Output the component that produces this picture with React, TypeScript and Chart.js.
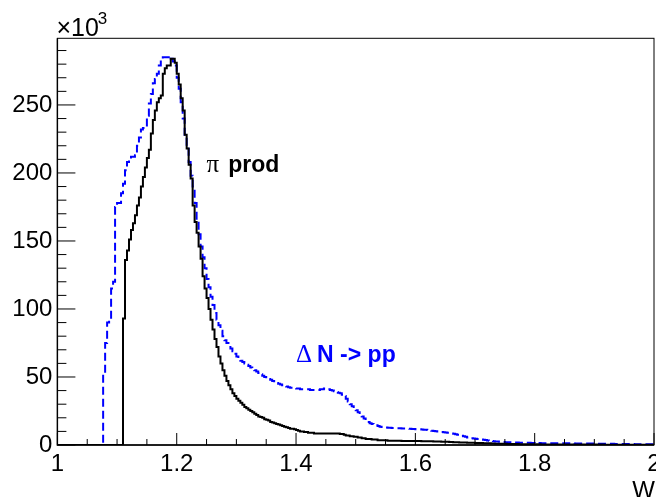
import React, { useEffect, useRef } from "react";
import { Chart, registerables } from "chart.js";

Chart.register(...registerables);

// ---- axis definition ----
const X_MIN = 1;
const X_MAX = 2;
const Y_MIN = 0;
const Y_MAX = 299; // in units of 10^3
const X_TICK_LABELS = [1, 1.2, 1.4, 1.6, 1.8, 2];
const X_MINOR_STEP = 0.05;
const Y_TICK_LABELS = [0, 50, 100, 150, 200, 250];
const Y_MINOR_STEP = 10;
const X_TITLE = "W";
const Y_EXPONENT = "3";

// ---- histogram contents (x10^3 entries), 300 bins from 1 to 2 ----
const PI_PROD = [
  0, 0, 0, 0, 0, 0, 0, 0, 0, 0,
  0, 0, 0, 0, 0, 0, 0, 0, 0, 0,
  0, 0, 0, 0, 0, 0, 0, 0, 0, 0,
  0, 0, 0, 93, 136, 143, 151, 158, 163, 169,
  176, 182, 190, 197, 204, 211, 217, 229, 239, 246,
  252, 255, 257, 273, 277, 279, 279, 284, 284, 281,
  273, 265, 255, 246, 228, 218, 206, 196, 176, 164,
  156, 146, 137, 124, 115, 108, 100, 92, 85, 78,
  72, 65, 60, 55, 51, 47, 44, 41, 38, 36,
  34, 32.5, 31, 29.5, 28, 27, 26, 25, 24, 23,
  22, 21, 20.5, 20, 19, 18.5, 18, 17, 16.5, 16,
  15.5, 15, 14.5, 14, 13.5, 13, 12.5, 12, 12, 11.5,
  11, 10.5, 10, 10, 9.5, 9.5, 9, 9, 9, 8.5,
  8.5, 8.5, 8.5, 8.5, 8.5, 8.5, 8.5, 8.5, 8.5, 8.5,
  8.5, 8.5, 8, 8, 7.5, 7, 7, 6.5, 6.5, 6,
  6, 5.5, 5.5, 5, 5, 4.5, 4.5, 4.5, 4, 4,
  4, 3.5, 3.5, 3.5, 3.5, 3.5, 3.2, 3.2, 3.2, 3.2,
  3.2, 3.2, 3.2, 3, 3, 3, 3, 3, 3, 3,
  3, 3, 3, 2.8, 2.8, 2.8, 2.7, 2.7, 2.7, 2.6,
  2.6, 2.5, 2.5, 2.4, 2.4, 2.3, 2.3, 2.2, 2.2, 2.1,
  2.0, 2.0, 1.9, 1.9, 1.8, 1.8, 1.7, 1.7, 1.6, 1.6,
  1.5, 1.5, 1.4, 1.4, 1.3, 1.3, 1.2, 1.2, 1.1, 1.1,
  1.0, 1.0, 1.0, 0.9, 0.9, 0.9, 0.8, 0.8, 0.8, 0.7,
  0.7, 0.7, 0.6, 0.6, 0.6, 0.6, 0.5, 0.5, 0.5, 0.5,
  0.5, 0.5, 0.5, 0.4, 0.4, 0.4, 0.4, 0.4, 0.4, 0.4,
  0.4, 0.4, 0.4, 0.4, 0.3, 0.3, 0.3, 0.3, 0.3, 0.3,
  0.3, 0.3, 0.3, 0.3, 0.3, 0.3, 0.3, 0.3, 0.3, 0.3,
  0.3, 0.3, 0.3, 0.3, 0.3, 0.2, 0.2, 0.2, 0.2, 0.2,
  0.2, 0.2, 0.2, 0.2, 0.2, 0.2, 0.2, 0.2, 0.2, 0.2,
  0.2, 0.2, 0.2, 0.2, 0.2, 0.2, 0.2, 0.2, 0.2, 0.2,
];

const DELTA_N_PP = [
  0, 0, 0, 0, 0, 0, 0, 0, 0, 0,
  0, 0, 0, 0, 0, 0, 0, 0, 0, 0,
  0, 0, 0, 53, 75, 90, 92, 115, 120, 175,
  178, 178, 185, 192, 202, 208, 210, 212, 212, 213,
  220, 226, 232, 233, 234, 242, 251, 258, 266, 269,
  273, 279, 283, 285, 285, 285, 283, 284, 282, 279,
  270, 262, 252, 240, 228, 220, 208, 198, 190, 178,
  165, 155, 146, 138, 130, 122, 116, 109, 103, 97,
  92, 88, 84, 80, 77, 75, 73, 71, 69, 67,
  65, 63.5, 62, 61, 60, 59, 58, 57, 56, 55,
  54, 53, 52, 51, 50, 49, 48.5, 48, 47, 46,
  45.5, 45, 44.5, 44, 43.5, 43, 42.5, 42, 42, 42,
  41.5, 41.5, 41, 41, 41, 41, 41, 40.5, 40.5, 40.5,
  40.5, 40.5, 41, 41, 41.5, 41.5, 41, 40.5, 40, 39.5,
  39, 38.5, 38, 37, 36, 34, 32, 30, 28.5, 27,
  25.5, 24, 22.5, 21, 19.5, 18, 17, 16, 15.5, 15,
  14.5, 14, 13.5, 13.2, 13, 12.8, 12.7, 12.6, 12.5, 12.5,
  12.5, 12.4, 12.3, 12.2, 12.1, 12, 12, 11.9, 11.8, 11.7,
  11.6, 11.5, 11.5, 11.4, 11.3, 11.2, 11, 10.8, 10.5, 10.3,
  10.2, 10, 9.8, 9.6, 9.4, 9.2, 9, 8.8, 8.5, 8.2,
  7.9, 7.6, 7.2, 6.8, 6.4, 6, 5.6, 5.3, 5, 4.8,
  4.6, 4.4, 4.2, 4, 3.8, 3.6, 3.4, 3.2, 3, 2.8,
  2.6, 2.5, 2.4, 2.3, 2.2, 2.1, 2.1, 2, 2, 1.9,
  1.8, 1.8, 1.7, 1.7, 1.7, 1.6, 1.6, 1.6, 1.5, 1.5,
  1.4, 1.4, 1.4, 1.3, 1.3, 1.3, 1.3, 1.2, 1.2, 1.2,
  1.2, 1.2, 1.2, 1.2, 1.2, 1.2, 1.2, 1.2, 1.2, 1.2,
  1.1, 1.1, 1.1, 1.1, 1.1, 1.1, 1.1, 1.1, 1.1, 1.1,
  1, 1, 1, 1, 1, 1, 1, 1, 1, 1,
  0.8, 0.8, 0.8, 0.8, 0.8, 0.8, 0.8, 0.8, 0.8, 0.8,
  0.6, 0.6, 0.6, 0.6, 0.6, 0.6, 0.6, 0.6, 0.6, 0.6,
];

// ---- annotation labels (anchored in data coordinates) ----
const PI_LABEL = { symbol: "π", text: "prod", x: 1.25, y: 201, color: "#000000", gap: 9 };
const DELTA_LABEL = { symbol: "Δ", text: "N -> pp", x: 1.4, y: 61.3, color: "#0000ff", gap: 5 };

const SANS = '"Liberation Sans", Arial, Helvetica, sans-serif';
const SERIF = '"Liberation Serif", "Times New Roman", serif';

function histSteps(values: number[]) {
  const w = (X_MAX - X_MIN) / values.length;
  const pts = values.map((v, i) => ({ x: X_MIN + i * w, y: v }));
  pts.push({ x: X_MAX, y: values[values.length - 1] });
  return pts;
}

const rootDecor = {
  id: "rootDecor",
  afterDatasetsDraw(chart: any) {
    const { ctx, chartArea: a, scales } = chart;
    const xs = scales.x;
    const ys = scales.y;
    ctx.save();
    // frame
    ctx.strokeStyle = "#000";
    ctx.lineWidth = 1;
    ctx.strokeRect(a.left, a.top, a.right - a.left, a.bottom - a.top);
    // left & bottom axis lines a bit stronger
    ctx.lineWidth = 1.4;
    ctx.beginPath();
    ctx.moveTo(a.left, a.top);
    ctx.lineTo(a.left, a.bottom);
    ctx.lineTo(a.right, a.bottom);
    ctx.stroke();
    // y ticks (inward)
    ctx.lineWidth = 1;
    for (let k = 0; k * Y_MINOR_STEP <= Y_MAX; k++) {
      const v = Y_MIN + k * Y_MINOR_STEP;
      const p = ys.getPixelForValue(v);
      const len = Y_TICK_LABELS.includes(v) ? 18 : 9;
      ctx.beginPath();
      ctx.moveTo(a.left, p);
      ctx.lineTo(a.left + len, p);
      ctx.stroke();
    }
    // x ticks (inward)
    const nx = Math.round((X_MAX - X_MIN) / X_MINOR_STEP);
    for (let k = 0; k <= nx; k++) {
      const v = X_MIN + k * X_MINOR_STEP;
      const isMajor = X_TICK_LABELS.some((t) => Math.abs(t - v) < 1e-9);
      const p = xs.getPixelForValue(v);
      const len = isMajor ? 12 : 6;
      ctx.beginPath();
      ctx.moveTo(p, a.bottom);
      ctx.lineTo(p, a.bottom - len);
      ctx.stroke();
    }
    // exponent label
    ctx.fillStyle = "#000";
    ctx.textAlign = "left";
    ctx.textBaseline = "alphabetic";
    ctx.font = `25px ${SANS}`;
    const ex = a.left - 1;
    const ey = a.top - 2.5;
    ctx.fillText("×10", ex, ey);
    const ew = ctx.measureText("×10").width;
    ctx.font = `17px ${SANS}`;
    ctx.fillText(Y_EXPONENT, ex + ew - 1, ey - 11.5);
    // x axis title
    ctx.font = `24px ${SANS}`;
    ctx.textAlign = "right";
    ctx.fillText(X_TITLE, a.right + 1, a.bottom + 52.5);
    // annotations
    for (const lab of [PI_LABEL, DELTA_LABEL]) {
      const px = xs.getPixelForValue(lab.x);
      const py = ys.getPixelForValue(lab.y);
      ctx.fillStyle = lab.color;
      ctx.textAlign = "left";
      ctx.font = `25px ${SERIF}`;
      ctx.fillText(lab.symbol, px, py);
      const sw = ctx.measureText(lab.symbol).width;
      ctx.font = `bold 23px ${SANS}`;
      ctx.fillText(lab.text, px + sw + lab.gap, py);
    }
    ctx.restore();
  },
};

export default function App() {
  const ref = useRef<HTMLCanvasElement | null>(null);
  useEffect(() => {
    if (!ref.current) return;
    const chart = new Chart(ref.current, {
      type: "line",
      data: {
        datasets: [
          {
            label: "π prod",
            data: histSteps(PI_PROD),
            borderColor: "#000000",
            borderWidth: 2,
            stepped: "before",
            pointRadius: 0,
            fill: false,
            order: 0,
          },
          {
            label: "Δ N -> pp",
            data: histSteps(DELTA_N_PP),
            borderColor: "#0000ff",
            borderWidth: 2,
            borderDash: [8, 4],
            stepped: "before",
            pointRadius: 0,
            fill: false,
            order: 1,
          },
        ],
      },
      options: {
        animation: false,
        responsive: false,
        devicePixelRatio: 1,
        layout: { padding: { top: 38.3, right: 2, left: 0, bottom: 0 } },
        plugins: { legend: { display: false }, tooltip: { enabled: false } },
        scales: {
          x: {
            type: "linear",
            min: X_MIN,
            max: X_MAX,
            grid: { display: false, drawTicks: false, tickLength: 0 },
            border: { display: false },
            afterBuildTicks: (s: any) => {
              s.ticks = X_TICK_LABELS.map((v) => ({ value: v }));
            },
            ticks: {
              autoSkip: false,
              maxRotation: 0,
              padding: 5,
              color: "#000",
              font: { family: SANS, size: 24 },
              callback: (v: any) => String(v),
            },
            afterFit: (s: any) => {
              s.height = 52;
              s.paddingLeft = 0;
              s.paddingRight = 0;
            },
          },
          y: {
            type: "linear",
            min: Y_MIN,
            max: Y_MAX,
            grid: { display: false, drawTicks: false, tickLength: 0 },
            border: { display: false },
            afterBuildTicks: (s: any) => {
              s.ticks = Y_TICK_LABELS.map((v) => ({ value: v }));
            },
            ticks: {
              autoSkip: false,
              padding: 5,
              color: "#000",
              font: { family: SANS, size: 24 },
              callback: (v: any) => String(v),
            },
            afterFit: (s: any) => {
              s.width = 57.4;
              s.paddingTop = 0;
              s.paddingBottom = 0;
            },
          },
        },
      },
      plugins: [rootDecor],
    });
    return () => chart.destroy();
  }, []);
  return (
    <div style={{ position: "fixed", left: 0, top: 0, width: 656, height: 497, background: "#fff" }}>
      <canvas ref={ref} width={656} height={497} style={{ display: "block" }} />
    </div>
  );
}
